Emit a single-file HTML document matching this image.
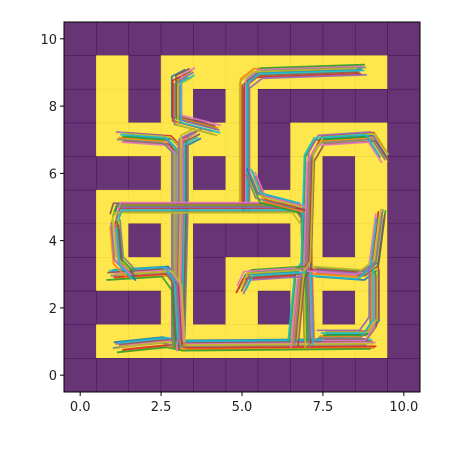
<!DOCTYPE html>
<html><head><meta charset="utf-8"><style>
body{margin:0;background:#fff;font-family:"Liberation Sans",sans-serif}
svg text{font-family:"DejaVu Sans","Liberation Sans",sans-serif;font-size:13px;fill:#222}
</style></head><body>
<svg id="c" width="450" height="450"></svg>
<script>
const maze = [
"WWWWWWWWWWW",
"WOWOOOOOOOW",
"WOWOWOWWWWW",
"WOOOOOWOOOW",
"WWWOWOWOWOW",
"WOOOOOOOWOW",
"WOWOWWWOWOW",
"WOOOWOOOOOW",
"WWWOWOWOWOW",
"WOOOOOOOOOW",
"WWWWWWWWWWW"];
const xTicks=[0,2.5,5,7.5,10];
const xTickLabels=["0.0","2.5","5.0","7.5","10.0"];
const yTicks=[0,2,4,6,8,10];
const yTickLabels=["0","2","4","6","8","10"];
const paths=[
[[1.2,0.85],[2.7,1],[3.2,0.9],[9,0.95]],
[[3,0.9],[3,6.7],[2.7,7],[1.3,7.1]],
[[3.1,1],[3.2,5],[3.2,7],[3.6,7.2]],
[[5.1,5],[5.1,8.7],[5.5,9],[8.7,9.1]],
[[1.1,4.7],[1.2,5],[6.7,5],[7,4.6],[7.1,1]],
[[1,3],[2.7,3.1],[3,2.7],[3.1,1]],
[[6.6,1],[6.8,3],[7,3.3],[7.1,6.5],[7.4,7],[9,7.1],[9.4,6.5]],
[[9.3,4.8],[9.1,3.3],[8.7,3],[7.2,3.1]],
[[5,2.6],[5.2,3],[6.8,3.1]],
[[3.4,9],[3,8.8],[3,7.6],[4.2,7.3]],
[[5.3,6],[5.6,5.3],[6.8,5]],
[[7.5,1.2],[8.8,1.2],[9.1,1.6],[9.1,3.1]],
[[1.1,4.5],[1.2,3.4],[1.6,3]]
];
const colors=["#1f77b4","#ff7f0e","#2ca02c","#d62728","#9467bd","#8c564b","#e377c2","#7f7f7f","#bcbd22","#17becf"];
const offs=[-0.14,0.08,-0.04,0.13,-0.09,0.02,0.11,-0.17,0.05,-0.01];
const ns="http://www.w3.org/2000/svg";
const svg=document.getElementById('c');
const L=64,R=420,T=22,B=392;
const sx=v=>L+(v+0.5)*(R-L)/11, sy=v=>B-(v+0.5)*(B-T)/11;
function mk(t,a,p){const e=document.createElementNS(ns,t);for(const k in a)e.setAttribute(k,a[k]);(p||svg).appendChild(e);return e;}
const cw=(R-L)/11,ch=(B-T)/11;
maze.forEach((row,r)=>{const yv=10-r;[...row].forEach((c,x)=>{
 const e=mk('rect',{x:sx(x-0.5),y:sy(yv+0.5),width:cw,height:ch,fill:c==='W'?'#673576':'#fde74c',stroke:c==='W'?'#4a1a5c':'#f0d840','stroke-width':0.6});
 
 
});});
paths.forEach((p,pi)=>{colors.forEach((col,ci)=>{
 const ox=offs[(ci+pi*3)%10], oy=offs[(ci*7+pi*2+3)%10];
 const d=p.map((q,i)=>(i?'L':'M')+sx(q[0]+ox).toFixed(1)+' '+sy(q[1]+oy).toFixed(1)).join(' ');
 const e=mk('path',{d:d,fill:'none',stroke:col,'stroke-width':1.8,'stroke-linejoin':'round','stroke-linecap':'round',opacity:0.9});
 
 
});});
const fr=mk('rect',{x:L,y:T,width:R-L,height:B-T,fill:'none',stroke:'#000','stroke-width':1});


xTicks.forEach((v,i)=>{mk('line',{x1:sx(v),x2:sx(v),y1:B,y2:B+4,stroke:'#000'});
 const t=mk('text',{x:sx(v),y:B+19,'text-anchor':'middle'});t.textContent=xTickLabels[i];
 
 });
yTicks.forEach((v,i)=>{mk('line',{x1:L-4,x2:L,y1:sy(v),y2:sy(v),stroke:'#000'});
 const t=mk('text',{x:L-7,y:sy(v)+5,'text-anchor':'end'});t.textContent=yTickLabels[i];
 
 });
</script>
</body></html>
